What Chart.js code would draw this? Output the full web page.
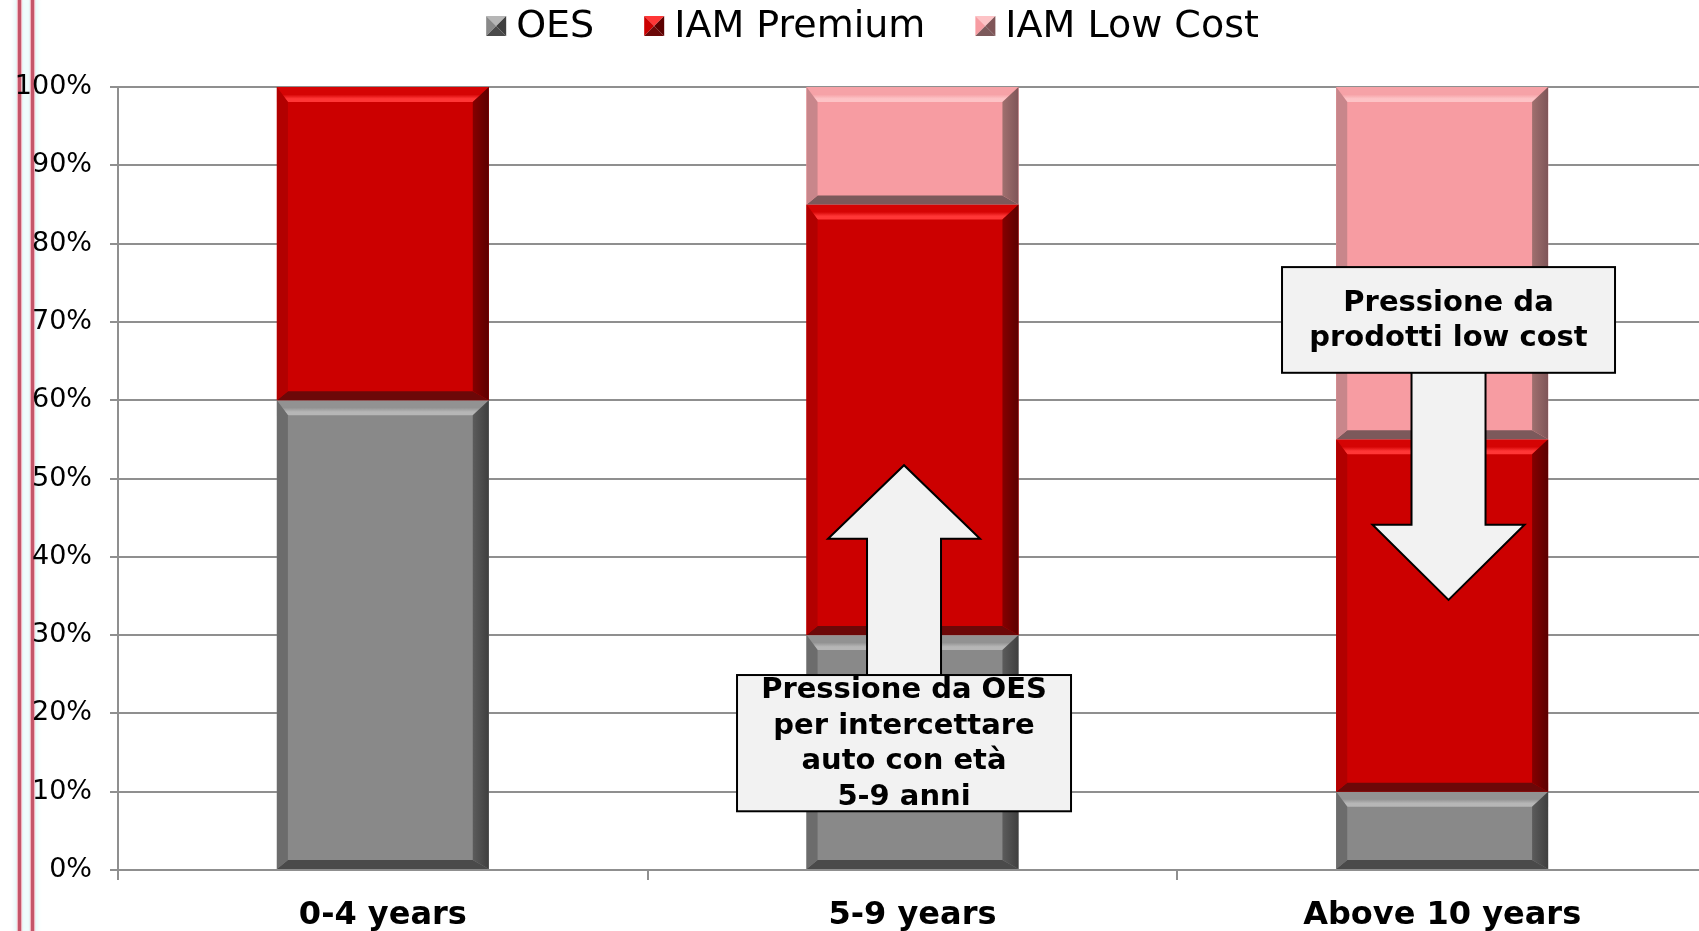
<!DOCTYPE html>
<html>
<head>
<meta charset="utf-8">
<script src="https://cdn.jsdelivr.net/npm/chart.js@4.4.1/dist/chart.umd.min.js"></script>
<style>
  html, body { margin: 0; padding: 0; background: #ffffff; overflow: hidden; width: 1699px; height: 931px; }
  #wrap { position: absolute; left: 0; top: 0; width: 1707px; height: 931px; z-index: 2; }
  .rule { position: absolute; top: 0; height: 931px; width: 3px; background: #c4566a;
          box-shadow: 0 0 1px 1px #f2b6c0, 0 0 5px 3px rgba(200, 245, 245, 0.6); z-index: 1; }
</style>
</head>
<body>
<div class="rule" style="left:18px"></div>
<div class="rule" style="left:31px"></div>
<div id="wrap"><canvas id="chart" width="1707" height="931"></canvas></div>
<script>
// Market share by vehicle age (percent of aftermarket)
const categories = ['0-4 years', '5-9 years', 'Above 10 years'];
const seriesNames = ['OES', 'IAM Premium', 'IAM Low Cost'];
const oesShare = [60, 30, 10];
const iamPremiumShare = [40, 55, 45];
const iamLowCostShare = [0, 15, 45];
const yTicks = [0, 10, 20, 30, 40, 50, 60, 70, 80, 90, 100];

// Bevelled bar palettes: face, top edge/highlight, left, right, bottom
const palettes = [
  { face: '#898989', topEdge: '#929292', topHi: '#b6b6b6', left: '#6c6c6c', rightA: '#5c5c5c', rightB: '#3f3f3f', bottom: '#4a4a4a' },
  { face: '#cc0000', topEdge: '#d50404', topHi: '#ff3636', left: '#b20000', rightA: '#860000', rightB: '#5c0000', bottom: '#6c0808' },
  { face: '#f79ca2', topEdge: '#f6a2a7', topHi: '#fdc3c6', left: '#c8868b', rightA: '#a0706f', rightB: '#7f5558', bottom: '#7c595b' }
];

// Callouts: anchored on category index (fractional) and on the percent scale
const callouts = [
  { cat: 0.984, boxTop: 24.9, boxBottom: 7.5, boxWidth: 334,
    lines: ['Pressione da OES', 'per intercettare', 'auto con età', '5-9 anni'],
    arrow: { dir: 'up', headBase: 42.3, tip: 51.7 } },
  { cat: 2.012, boxTop: 77.0, boxBottom: 63.5, boxWidth: 333,
    lines: ['Pressione da', 'prodotti low cost'],
    arrow: { dir: 'down', headBase: 44.1, tip: 34.5 } }
];

const FONT = '"DejaVu Sans", Verdana, sans-serif';
const GRID = '#8f8f8f';

function poly(ctx, pts, fill) {
  ctx.beginPath();
  ctx.moveTo(pts[0][0], pts[0][1]);
  for (let i = 1; i < pts.length; i++) ctx.lineTo(pts[i][0], pts[i][1]);
  ctx.closePath();
  ctx.fillStyle = fill;
  ctx.fill();
}

const bevelPlugin = {
  id: 'bevel',
  afterDatasetsDraw(chart) {
    const ctx = chart.ctx;
    ctx.save();
    chart.data.datasets.forEach((ds, di) => {
      const meta = chart.getDatasetMeta(di);
      const pal = palettes[di];
      meta.data.forEach((bar) => {
        const p = bar.getProps(['x', 'y', 'base', 'width'], true);
        const L = p.x - p.width / 2, R = p.x + p.width / 2;
        const T = Math.min(p.y, p.base), B = Math.max(p.y, p.base);
        if (B - T < 1) return;
        const bt = 15, bb = 9, bl = 11, br = 16;
        ctx.fillStyle = pal.face;
        ctx.fillRect(L, T, R - L, B - T);
        const gTop = ctx.createLinearGradient(0, T, 0, T + bt);
        gTop.addColorStop(0, pal.topEdge);
        gTop.addColorStop(0.5, pal.topEdge);
        gTop.addColorStop(0.78, pal.topHi);
        gTop.addColorStop(1, pal.topHi);
        poly(ctx, [[L, T], [R, T], [R - br, T + bt], [L + bl, T + bt]], gTop);
        poly(ctx, [[L, B], [R, B], [R - br, B - bb], [L + bl, B - bb]], pal.bottom);
        poly(ctx, [[L, T], [L + bl, T + bt], [L + bl, B - bb], [L, B]], pal.left);
        const gR = ctx.createLinearGradient(R - br, 0, R, 0);
        gR.addColorStop(0, pal.rightA);
        gR.addColorStop(1, pal.rightB);
        poly(ctx, [[R, T], [R - br, T + bt], [R - br, B - bb], [R, B]], gR);
      });
    });
    ctx.restore();
  }
};

const calloutPlugin = {
  id: 'callouts',
  afterDraw(chart) {
    const ctx = chart.ctx;
    const xs = chart.scales.x, ys = chart.scales.y;
    const step = xs.getPixelForValue(1) - xs.getPixelForValue(0);
    ctx.save();
    callouts.forEach((c) => {
      const i = Math.floor(c.cat);
      const cx = xs.getPixelForValue(i) + (c.cat - i) * step;
      const top = ys.getPixelForValue(c.boxTop), bottom = ys.getPixelForValue(c.boxBottom);
      const hb = ys.getPixelForValue(c.arrow.headBase), tip = ys.getPixelForValue(c.arrow.tip);
      const sh = 37, hh = 76;
      const start = c.arrow.dir === 'up' ? top + 2 : bottom - 2;
      ctx.beginPath();
      ctx.moveTo(cx - sh, start);
      ctx.lineTo(cx - sh, hb);
      ctx.lineTo(cx - hh, hb);
      ctx.lineTo(cx, tip);
      ctx.lineTo(cx + hh, hb);
      ctx.lineTo(cx + sh, hb);
      ctx.lineTo(cx + sh, start);
      ctx.closePath();
      ctx.fillStyle = '#f2f2f2';
      ctx.fill();
      ctx.lineWidth = 2;
      ctx.strokeStyle = '#000000';
      ctx.lineJoin = 'miter';
      ctx.stroke();

      const L = cx - c.boxWidth / 2;
      ctx.fillStyle = '#f2f2f2';
      ctx.fillRect(L, top, c.boxWidth, bottom - top);
      ctx.strokeRect(L, top, c.boxWidth, bottom - top);

      ctx.fillStyle = '#000000';
      ctx.font = 'bold 29px ' + FONT;
      ctx.textAlign = 'center';
      ctx.textBaseline = 'middle';
      const lh = 35.5;
      const mid = (top + bottom) / 2 + 1;
      c.lines.forEach((t, k) => {
        ctx.fillText(t, cx, mid + (k - (c.lines.length - 1) / 2) * lh);
      });
    });
    ctx.restore();
  }
};

const legendPlugin = {
  id: 'topLegend',
  afterDraw(chart) {
    const ctx = chart.ctx;
    ctx.save();
    ctx.font = '38px ' + FONT;
    ctx.textBaseline = 'middle';
    ctx.textAlign = 'left';
    const box = 20, gapText = 10, gapItem = 50, cy = 26;
    const widths = seriesNames.map((n) => ctx.measureText(n).width);
    let total = 0;
    widths.forEach((w, k) => { total += box + gapText + w + (k ? gapItem : 0); });
    let x = chart.width / 2 + 19 - total / 2;
    seriesNames.forEach((n, k) => {
      const pal = palettes[k];
      const bx = x, by = cy - box / 2, m = [bx + box / 2, by + box / 2];
      poly(ctx, [[bx, by], [bx + box, by], m], pal.topHi);
      poly(ctx, [[bx, by], m, [bx, by + box]], pal.face);
      poly(ctx, [[bx + box, by], [bx + box, by + box], m], pal.rightB);
      poly(ctx, [[bx, by + box], m, [bx + box, by + box]], pal.bottom);
      ctx.fillStyle = '#000000';
      ctx.fillText(n, bx + box + gapText, cy + 1);
      x += box + gapText + widths[k] + gapItem;
    });
    ctx.restore();
  }
};

new Chart(document.getElementById('chart'), {
  type: 'bar',
  data: {
    labels: categories,
    datasets: [
      { label: seriesNames[0], data: oesShare, backgroundColor: palettes[0].face },
      { label: seriesNames[1], data: iamPremiumShare, backgroundColor: palettes[1].face },
      { label: seriesNames[2], data: iamLowCostShare, backgroundColor: palettes[2].face }
    ]
  },
  options: {
    responsive: false,
    animation: false,
    layout: { padding: { top: 87, left: 0, right: 0, bottom: 0 } },
    datasets: { bar: { categoryPercentage: 1, barPercentage: 0.4, borderWidth: 0 } },
    plugins: { legend: { display: false }, tooltip: { enabled: false }, title: { display: false } },
    scales: {
      x: {
        stacked: true,
        afterFit(s) { s.height = 61; },
        grid: { display: true, drawOnChartArea: false, drawTicks: true, tickLength: 10, offset: true, color: GRID, lineWidth: 2 },
        border: { display: true, color: GRID, width: 2 },
        ticks: { color: '#000000', padding: 16, maxRotation: 0, font: { family: FONT, size: 32, weight: 'bold' } }
      },
      y: {
        stacked: true,
        min: 0, max: 100,
        afterFit(s) { s.width = 118; },
        afterBuildTicks(s) { s.ticks = yTicks.map((v) => ({ value: v })); },
        grid: { color: GRID, lineWidth: 2, tickLength: 8 },
        border: { display: true, color: GRID, width: 2 },
        ticks: { color: '#000000', padding: 18, font: { family: FONT, size: 27 }, callback: (v) => v + '%' }
      }
    }
  },
  plugins: [bevelPlugin, calloutPlugin, legendPlugin]
});
</script>
</body>
</html>
